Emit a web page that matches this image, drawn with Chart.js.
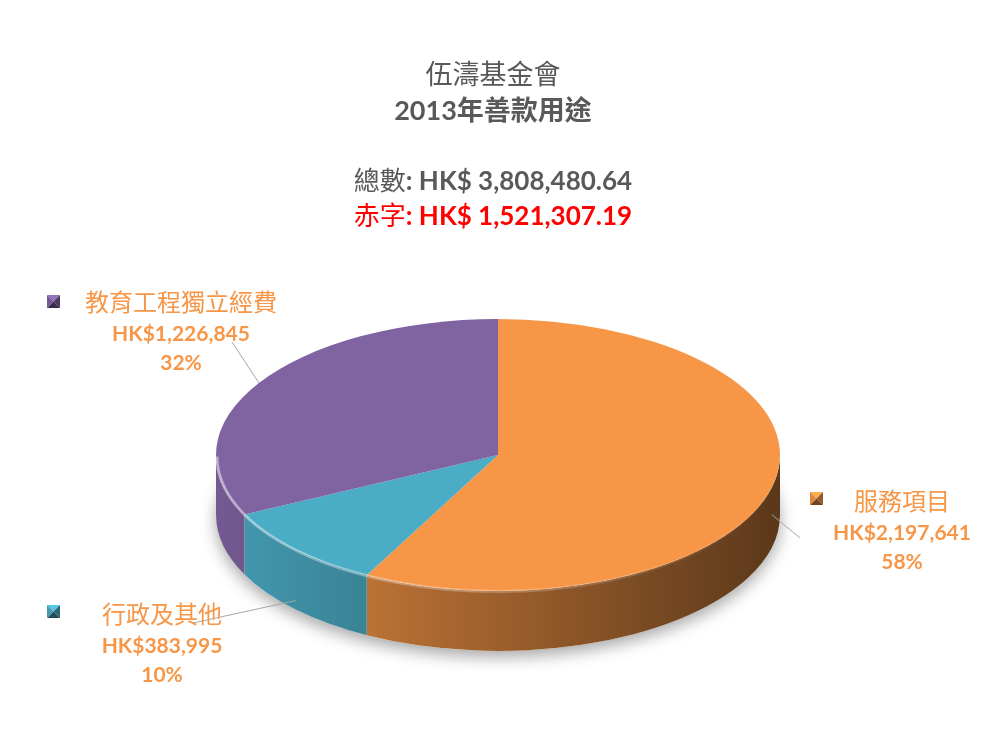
<!DOCTYPE html>
<html>
<head>
<meta charset="utf-8">
<title>伍濤基金會 2013年善款用途</title>
<script src="https://cdn.jsdelivr.net/npm/chart.js@4.4.1/dist/chart.umd.min.js"></script>
<style>
    html, body { margin: 0; padding: 0; background: #fff; }
    canvas { display: block; }
</style>
</head>
<body>
<canvas id="myChart" width="1000" height="750"></canvas>
<script>
const categories = ['服務項目', '行政及其他', '教育工程獨立經費'];
const amounts = [2197641, 383995, 1226845];
const sliceColors = ['#F79646', '#4BACC6', '#8064A2'];
const titleLines = ['伍濤基金會', '2013年善款用途'];
const summaryLabels = ['總數', '赤字'];
const summaryValues = ['3,808,480.64', '1,521,307.19'];
const summaryColors = ['#595959', '#FF0000'];

// layout of the tilted pie
const PIE_CY = 455;    // centre of the top face on screen
const TILT = 0.482;    // vertical squash of the circle
const DEPTH = 60;      // thickness of the rim
const TITLE_X = 493;
const LABEL_COLOR = '#F79646';
const FONT_CJK = 'Lato, "Noto Sans CJK TC", sans-serif';

// label boxes, same order as categories
const labelLayout = [
    { x: 902, y: 502, box: [810, 492], from: [800, 538], depth: 0.45 },
    { x: 162, y: 615, box: [47, 605], from: [193, 623], depth: 0.85 },
    { x: 181, y: 303, box: [47, 295], from: [232, 342], depth: 0 }
];

function shade(hex, f) {
    const n = parseInt(hex.slice(1), 16);
    const c = [(n >> 16) & 255, (n >> 8) & 255, n & 255].map(v => Math.min(255, Math.round(v * f)));
    return 'rgb(' + c.join(',') + ')';
}

// part of a slice that lies on the front half (0..PI)
function visibleRange(s, e) {
    const out = [];
    for (const k of [-1, 0, 1]) {
        const a1 = Math.max(s + k * 2 * Math.PI, 0);
        const a2 = Math.min(e + k * 2 * Math.PI, Math.PI);
        if (a2 > a1) out.push([a1, a2]);
    }
    return out;
}

function drawBullet(ctx, x, y, color) {
    const s = 13, cx = x + s / 2, cy = y + s / 2;
    const faces = [
        [[x, y], [x + s, y], 1.15],
        [[x + s, y], [x + s, y + s], 0.6],
        [[x + s, y + s], [x, y + s], 0.45],
        [[x, y + s], [x, y], 0.9]
    ];
    faces.forEach(([p1, p2, f]) => {
        ctx.beginPath();
        ctx.moveTo(p1[0], p1[1]);
        ctx.lineTo(p2[0], p2[1]);
        ctx.lineTo(cx, cy);
        ctx.closePath();
        ctx.fillStyle = shade(color, f);
        ctx.fill();
    });
}

const pie3d = {
    id: 'pie3d',
    beforeDatasetsDraw(chart) {
        const ctx = chart.ctx;
        const arcs = chart.getDatasetMeta(0).data;
        if (!arcs.length) return;
        const cx = arcs[0].x, r = arcs[0].outerRadius, ry = r * TILT;

        // shadow under the pie
        ctx.save();
        ctx.beginPath();
        ctx.ellipse(cx, PIE_CY + DEPTH, r, ry, 0, 0, Math.PI * 2);
        ctx.shadowColor = 'rgba(0,0,0,0.35)';
        ctx.shadowBlur = 16;
        ctx.shadowOffsetY = 6;
        ctx.fillStyle = '#fff';
        ctx.fill();
        ctx.restore();

        // rim of each slice
        arcs.forEach((arc, i) => {
            visibleRange(arc.startAngle, arc.endAngle).forEach(([a1, a2]) => {
                const g = ctx.createLinearGradient(cx - r, 0, cx + r, 0);
                g.addColorStop(0, shade(sliceColors[i], 0.9));
                g.addColorStop(1, shade(sliceColors[i], 0.37));
                ctx.beginPath();
                ctx.ellipse(cx, PIE_CY, r, ry, 0, a1, a2);
                ctx.ellipse(cx, PIE_CY + DEPTH, r, ry, 0, a2, a1, true);
                ctx.closePath();
                ctx.fillStyle = g;
                ctx.fill();
            });
        });

        // squash the top face
        ctx.save();
        ctx.translate(0, PIE_CY);
        ctx.scale(1, TILT);
        ctx.translate(0, -arcs[0].y);
    },
    afterDatasetsDraw(chart) {
        const ctx = chart.ctx;
        ctx.restore();
        const arcs = chart.getDatasetMeta(0).data;
        if (!arcs.length) return;
        const cx = arcs[0].x, r = arcs[0].outerRadius, ry = r * TILT;
        // light bevel along the front edge
        const g = ctx.createLinearGradient(cx - r, 0, cx + r, 0);
        g.addColorStop(0, 'rgba(255,255,255,0.45)');
        g.addColorStop(0.6, 'rgba(255,255,255,0.2)');
        g.addColorStop(1, 'rgba(255,255,255,0)');
        ctx.save();
        ctx.beginPath();
        ctx.ellipse(cx, PIE_CY + 1.5, r - 1, ry - 1, 0, 0, Math.PI);
        ctx.strokeStyle = g;
        ctx.lineWidth = 3;
        ctx.stroke();
        ctx.restore();
    },
    afterDraw(chart) {
        const ctx = chart.ctx;
        const arcs = chart.getDatasetMeta(0).data;
        const total = amounts.reduce((a, b) => a + b, 0);

        ctx.save();
        ctx.textAlign = 'center';
        ctx.textBaseline = 'middle';

        // title
        ctx.fillStyle = '#595959';
        ctx.font = '27px ' + FONT_CJK;
        ctx.fillText(titleLines[0], TITLE_X, 75);
        ctx.font = 'bold 27px ' + FONT_CJK;
        ctx.fillText(titleLines[1], TITLE_X, 111);

        // total and deficit
        summaryLabels.forEach((label, i) => {
            const y = 182 + i * 35;
            const rest = ': HK$ ' + summaryValues[i];
            ctx.font = '26px ' + FONT_CJK;
            const w1 = ctx.measureText(label).width;
            ctx.font = 'bold 26px ' + FONT_CJK;
            const w2 = ctx.measureText(rest).width;
            const x0 = TITLE_X - (w1 + w2) / 2;
            ctx.textAlign = 'left';
            ctx.fillStyle = summaryColors[i];
            ctx.font = '26px ' + FONT_CJK;
            ctx.fillText(label, x0, y);
            ctx.font = 'bold 26px ' + FONT_CJK;
            ctx.fillText(rest, x0 + w1, y);
            ctx.textAlign = 'center';
        });

        // slice labels with leader lines
        arcs.forEach((arc, i) => {
            const L = labelLayout[i];
            const mid = (arc.startAngle + arc.endAngle) / 2;
            const ax = arc.x + Math.cos(mid) * arc.outerRadius;
            const ay = PIE_CY + Math.sin(mid) * arc.outerRadius * TILT + L.depth * DEPTH;

            ctx.beginPath();
            ctx.moveTo(L.from[0], L.from[1]);
            ctx.lineTo(ax, ay);
            ctx.strokeStyle = '#A6A6A6';
            ctx.lineWidth = 1;
            ctx.stroke();

            drawBullet(ctx, L.box[0], L.box[1], sliceColors[i]);

            ctx.fillStyle = LABEL_COLOR;
            ctx.font = '24px ' + FONT_CJK;
            ctx.fillText(categories[i], L.x, L.y);
            ctx.font = 'bold 21px ' + FONT_CJK;
            ctx.fillText('HK$' + amounts[i].toLocaleString('en-US'), L.x, L.y + 31);
            ctx.fillText(Math.round(amounts[i] / total * 100) + '%', L.x, L.y + 60);
        });
        ctx.restore();
    }
};

const ctx = document.getElementById('myChart').getContext('2d');

const myChart = new Chart(ctx, {
    type: 'pie',
    data: {
        labels: categories,
        datasets: [{
            data: amounts,
            backgroundColor: sliceColors,
            borderWidth: 0,
            clip: false
        }]
    },
    options: {
        responsive: false,
        animation: false,
        events: [],
        layout: {
            padding: { left: 216, right: 220, top: 93, bottom: 93 }
        },
        plugins: {
            legend: { display: false },
            tooltip: { enabled: false },
            title: { display: false }
        }
    },
    plugins: [pie3d]
});
</script>
</body>
</html>
